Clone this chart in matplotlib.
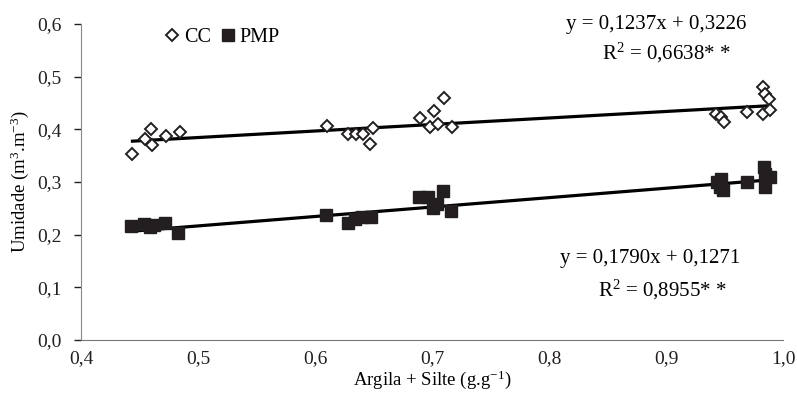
import numpy as np
import matplotlib.pyplot as plt
from matplotlib.ticker import FuncFormatter

plt.rcParams['font.family'] = ['Liberation Serif', 'DejaVu Serif']
plt.rcParams['mathtext.fontset'] = 'custom'
plt.rcParams['mathtext.rm'] = 'Liberation Serif'
plt.rcParams['mathtext.it'] = 'Liberation Serif:italic'

# CC (field capacity) points
cc_x = [0.444, 0.4547, 0.4596, 0.461, 0.4726, 0.4846,
        0.6105, 0.6285, 0.635, 0.641, 0.647, 0.650,
        0.690, 0.698, 0.702, 0.705, 0.710, 0.717,
        0.943, 0.947, 0.950, 0.969, 0.983, 0.985, 0.988, 0.983, 0.989]
cc_y = [0.354, 0.381, 0.400, 0.370, 0.387, 0.395,
        0.406, 0.391, 0.391, 0.391, 0.372, 0.402,
        0.422, 0.405, 0.435, 0.411, 0.460, 0.405,
        0.430, 0.423, 0.414, 0.433, 0.480, 0.468, 0.458, 0.430, 0.436]

# PMP (wilting point) points
pmp_x = [0.443, 0.454, 0.459, 0.462, 0.472, 0.483,
         0.609, 0.628, 0.634, 0.640, 0.648,
         0.689, 0.697, 0.709, 0.701, 0.704, 0.716,
         0.944, 0.946, 0.949, 0.947, 0.969, 0.984, 0.985, 0.985, 0.989]
pmp_y = [0.216, 0.221, 0.215, 0.218, 0.222, 0.204,
         0.237, 0.223, 0.229, 0.233, 0.233,
         0.271, 0.271, 0.282, 0.250, 0.258, 0.245,
         0.300, 0.290, 0.285, 0.305, 0.300, 0.328, 0.315, 0.290, 0.310]

# regression coefficients (slope, intercept)
cc_fit = (0.1237, 0.3226)
pmp_fit = (0.1790, 0.1271)

fig = plt.figure(figsize=(7.97, 4.05), dpi=100)
ax = fig.add_axes([0.1016, 0.1605, 0.8808, 0.7802])

xl = np.array([min(cc_x), max(cc_x)])
ax.plot(xl, cc_fit[0] * xl + cc_fit[1], color='black', lw=2.3, zorder=2)
xl = np.array([min(pmp_x), max(pmp_x)])
ax.plot(xl, pmp_fit[0] * xl + pmp_fit[1], color='black', lw=2.3, zorder=2)

ax.plot(cc_x, cc_y, 'D', ms=6.0, mfc='white', mec='#231f20', mew=1.4,
        ls='none', label='CC', zorder=3)
ax.plot(pmp_x, pmp_y, 's', ms=8.5, color='#231f20', ls='none',
        label='PMP', zorder=3)

ax.set_xlim(0.4, 1.0)
ax.set_ylim(0.0, 0.6)
ax.set_xticks(np.arange(0.4, 1.01, 0.1))
ax.set_yticks(np.arange(0.0, 0.61, 0.1))
fmt = FuncFormatter(lambda v, p: f'{v:.1f}'.replace('.', ','))
ax.xaxis.set_major_formatter(fmt)
ax.yaxis.set_major_formatter(fmt)
ax.tick_params(labelsize=14, colors='#231f20', length=5, width=1)
ax.tick_params(axis='y', pad=9)
ax.tick_params(axis='x', length=0, pad=7)

for s in ['top', 'right']:
    ax.spines[s].set_visible(False)
ax.spines['left'].set_color('#888888')
ax.spines['bottom'].set_color('#777777')

ax.set_xlabel('Argila + Silte (g.g$^{-1}$)', fontsize=13.5, labelpad=1)
ax.set_ylabel('Umidade (m$^{3}$.m$^{-3}$)', fontsize=13.5, labelpad=4)

W, H = 797, 405
def put(px, py, s):
    fig.text(px / W, 1 - py / H, s, fontsize=15, ha='center', va='center')

put(656, 25, 'y = 0,1237x + 0,3226')
put(666, 53, 'R$^{2}$ = 0,6638* *')
put(650, 258, 'y = 0,1790x + 0,1271')
put(662, 290, 'R$^{2}$ = 0,8955* *')

ax.legend(loc='upper left', bbox_to_anchor=(0.09, 1.045), ncol=2, frameon=False,
          fontsize=14.5, handletextpad=0.1, columnspacing=0.3, handlelength=1.0)

fig.savefig('out.png', dpi=100)
